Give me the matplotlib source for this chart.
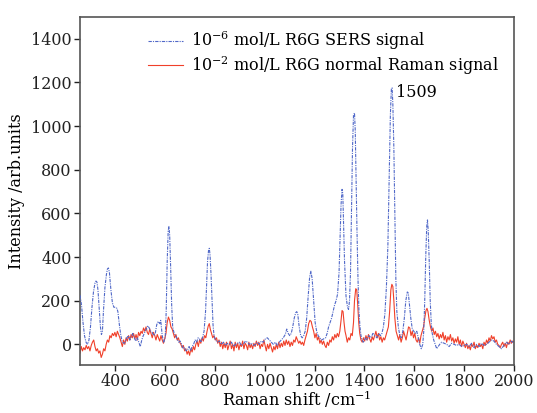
import numpy as np
import matplotlib
matplotlib.use("Agg")
import matplotlib.pyplot as plt

# 10^-6 mol/L R6G SERS signal
sers_shift = [258, 264, 270, 276, 282, 288, 294, 300, 306, 312, 318, 322, 326, 330, 336, 340, 344, 348, 352,
              358, 364, 368, 372, 376, 382, 388, 394, 400, 406, 410, 416, 422, 428, 434, 440, 446, 452, 458,
              464, 470, 476, 482, 488, 494, 500, 506, 512, 518, 524, 530, 536, 542, 548, 554, 560, 566, 572,
              578, 582, 588, 594, 600, 604, 608, 612, 615, 618, 622, 626, 630, 636, 642, 648, 654, 660, 666,
              672, 678, 684, 690, 696, 702, 708, 714, 720, 726, 732, 738, 744, 750, 756, 762, 766, 770, 774,
              777, 780, 784, 788, 792, 796, 802, 810, 818, 826, 834, 842, 850, 858, 866, 874, 882, 890, 898,
              906, 914, 922, 930, 938, 946, 954, 962, 970, 978, 986, 994, 1002, 1010, 1018, 1026, 1034, 1042,
              1050, 1058, 1066, 1074, 1082, 1088, 1094, 1100, 1106, 1112, 1118, 1124, 1128, 1132, 1138, 1144,
              1150, 1156, 1162, 1168, 1174, 1180, 1185, 1190, 1196, 1202, 1208, 1214, 1220, 1228, 1236, 1244,
              1250, 1256, 1262, 1268, 1274, 1280, 1286, 1292, 1298, 1302, 1306, 1310, 1313, 1316, 1320, 1326,
              1332, 1336, 1340, 1344, 1348, 1352, 1356, 1360, 1363, 1366, 1370, 1374, 1378, 1382, 1386, 1390,
              1396, 1402, 1410, 1418, 1426, 1434, 1442, 1450, 1458, 1464, 1470, 1476, 1482, 1488, 1494, 1500,
              1504, 1508, 1511, 1514, 1518, 1522, 1526, 1530, 1536, 1542, 1548, 1554, 1560, 1566, 1572, 1576,
              1580, 1586, 1592, 1598, 1604, 1610, 1616, 1622, 1628, 1634, 1638, 1642, 1646, 1650, 1653, 1656,
              1660, 1664, 1668, 1672, 1678, 1684, 1690, 1696, 1702, 1710, 1720, 1730, 1740, 1750, 1760, 1770,
              1780, 1790, 1800, 1810, 1820, 1830, 1840, 1850, 1860, 1870, 1880, 1890, 1900, 1910, 1920, 1930,
              1940, 1950, 1960, 1970, 1980, 1990, 2000]
sers_int = [225, 180, 100, 40, 10, 0, 20, 80, 170, 240, 280, 290, 285, 250, 150, 80, 45, 60, 150,
            260, 320, 345, 350, 330, 250, 190, 170, 170, 165, 150, 90, 40, 10, 5, 10, 30, 40, 20,
            35, 50, 30, 15, 30, 10, -10, 20, 40, 55, 70, 85, 75, 60, 55, 40, 50, 90, 105,
            95, 110, 40, 10, 30, 150, 380, 520, 540, 500, 350, 180, 80, 50, 40, 25, 10, 15, 0,
            -20, -15, -30, -25, -10, -30, -10, 0, 20, 10, 30, 25, 10, 30, 60, 150, 270, 380, 430,
            440, 410, 320, 200, 90, 40, 20, 10, 15, 0, 10, -5, 5, 0, 10, -10, 0, 5, 10,
            -5, 0, 15, 10, 0, 5, -5, 0, 10, 0, 15, 10, 25, 30, 20, 10, 0, 10,
            -5, 10, 20, 30, 45, 70, 50, 40, 50, 80, 120, 145, 150, 140, 80, 40,
            30, 40, 60, 120, 220, 310, 335, 300, 200, 100, 60, 40, 30, 20, 25, 30,
            50, 80, 100, 120, 150, 180, 200, 230, 330, 480, 640, 710, 690, 560, 380, 220,
            170, 160, 200, 330, 620, 900, 1050, 1060, 980, 780, 520, 300, 150, 80, 40, 20,
            10, 30, 20, 40, 30, 50, 40, 30, 50, 40, 50, 80, 140, 260, 450, 800,
            1050, 1170, 1175, 1100, 900, 600, 300, 150, 80, 40, 30, 60, 120, 200, 240, 235,
            190, 120, 70, 60, 50, 60, 30, 0, -20, 0, 60, 200, 400, 540, 570, 520,
            380, 200, 100, 50, 20, 0, -20, -10, 0, 10, 5, 0, -10, 5, 0, -5,
            0, -10, -5, 0, -10, 5, -15, 0, -10, 5, -5, 0, 10, 20, 15, 0,
            -10, -20, -5, 10, 0, 15, 5]

# 10^-2 mol/L R6G normal Raman signal
raman_shift = list(range(258, 606, 5)) + [608, 613, 618, 623] + list(range(628, 771, 5)) + [773, 777, 781] + \
    list(range(786, 1304, 5)) + [1306, 1310, 1314, 1318, 1322, 1326] + list(range(1331, 1358, 5)) + \
    [1360, 1365, 1369, 1373, 1377, 1381] + list(range(1386, 1504, 5)) + [1506, 1510, 1514, 1518, 1522] + \
    list(range(1527, 1649, 5)) + [1651, 1655] + list(range(1660, 2001, 5))
raman_int = [-40, -10, -30, -15, -25, -5, -20, -10, -30, -5, 10, 20, -10, -30, -20, -40, -30, -60, -45, -20,
             -30, 0, 20, 10, 40, 30, 50, 40, 55, 35, 60, 45, 30, 10, -10, 20, 0, 30, 15, 40,
             20, 45, 30, 50, 25, 45, 20, 55, 40, 60, 50, 75, 60, 80, 55, 45, 70, 50, 30, 55,
             40, 20, 45, 30, 15, 40, 20, 5, 25, 50,
             100, 125, 110, 80,
             70, 50, 30, 45, 20, 30, 10, 0, -15, -5, -30, -20, -45, -30, -50, -20, -35, -10, -25, 0,
             15, -10, 20, 5, 30, 15, 40, 30, 60,
             85, 95, 70,
             50, 30, 40, 20, 30, 5, 20, -10, 10, -20, 5, -15, 10, -25, -5, 15, -20, 0, -30, 10,
             -15, 5, -25, 0, -10, 15, -20, 5, -5, -25, 10, -15, 0, -20, 5, -10, 15, -5, 10, -20,
             0, -10, 20, -5, -30, 0, -20, 5, -15, -35, -10, -25, 0, -20, 10, -15, 5, -10, 15, -5,
             20, 0, 15, -10, 10, -5, 20, 10, 35, 20, 5, 15, 0, 10, -5, 20, 40, 60, 95, 110,
             105, 80, 60, 30, 50, 20, 35, 5, 20, 0, 15, -5, -15, 10, -5, 20, 10, 35, 20, 45,
             30, 50, 35, 60,
             110, 155, 150, 100, 60, 40,
             10, 30, 20, 50, 40, 100,
             200, 255, 250, 180, 100, 50,
             20, 10, 30, 15, 40, 20, 45, 25, 10, 35, 20, 40, 60, 30, 50, 20, 35, 10, 30, 20,
             40, 60, 80, 150,
             250, 275, 265, 200, 120,
             60, 40, 20, 45, 10, 30, 60, 40, 20, 50, 80, 75, 40, 60, 30, 50, 20, 10, 30, 5,
             40, 60, 80, 120, 155,
             165, 150,
             110, 80, 60, 75, 45, 60, 35, 50, 25, 45, 30, 55, 20, 40, 10, 35, 20, 45, 15, 30,
             5, 25, 10, 35, 0, 20, -10, 15, 0, -15, 5, -20, -5, -25, 0, -10, 10, -20, -5, -15,
             5, -10, 0, -20, 10, -5, 20, 5, 30, 15, 40, 25, 35, 10, 20, 0, -5, -15, 0, 10,
             -10, 5, -15, 10, 0, 20, 5, 15, 10]

plt.rcParams['font.family'] = ['DejaVu Serif']
plt.rcParams['mathtext.fontset'] = 'dejavuserif'

fig = plt.figure(figsize=(5.37, 4.13), dpi=100)
ax = fig.add_axes([0.149, 0.116, 0.808, 0.843])

ax.plot(raman_shift, raman_int, color='#f0402a', lw=0.8, zorder=2,
        label='10$^{-2}$ mol/L R6G normal Raman signal')
ax.plot(sers_shift, sers_int, color='#5068c8', lw=0.8, ls=(0, (3, 1, 1, 1)), zorder=3,
        label='10$^{-6}$ mol/L R6G SERS signal')

h, l = ax.get_legend_handles_labels()
ax.legend(h[::-1], l[::-1], loc='upper center', bbox_to_anchor=(0.562, 1.005), frameon=False,
          fontsize=11.5, handlelength=2.2, labelspacing=0.12, handletextpad=0.5)

ax.annotate('1509', xy=(1509, 1175), xytext=(1527, 1155), fontsize=11.5, va='center')

ax.set_xlim(258, 2000)
ax.set_ylim(-95, 1500)
ax.set_xticks(np.arange(400, 2001, 200))
ax.set_yticks(np.arange(0, 1401, 200))
ax.tick_params(direction='out', length=4, width=1, labelsize=11.5, colors='#222222', pad=2)
for s in ax.spines.values():
    s.set_color('#555555')
    s.set_linewidth(1.2)
ax.set_xlabel('Raman shift /cm$^{-1}$', fontsize=11.5, labelpad=-1)
ax.set_ylabel('Intensity /arb.units', fontsize=11.5, labelpad=4)

fig.savefig('out.png', dpi=100)
